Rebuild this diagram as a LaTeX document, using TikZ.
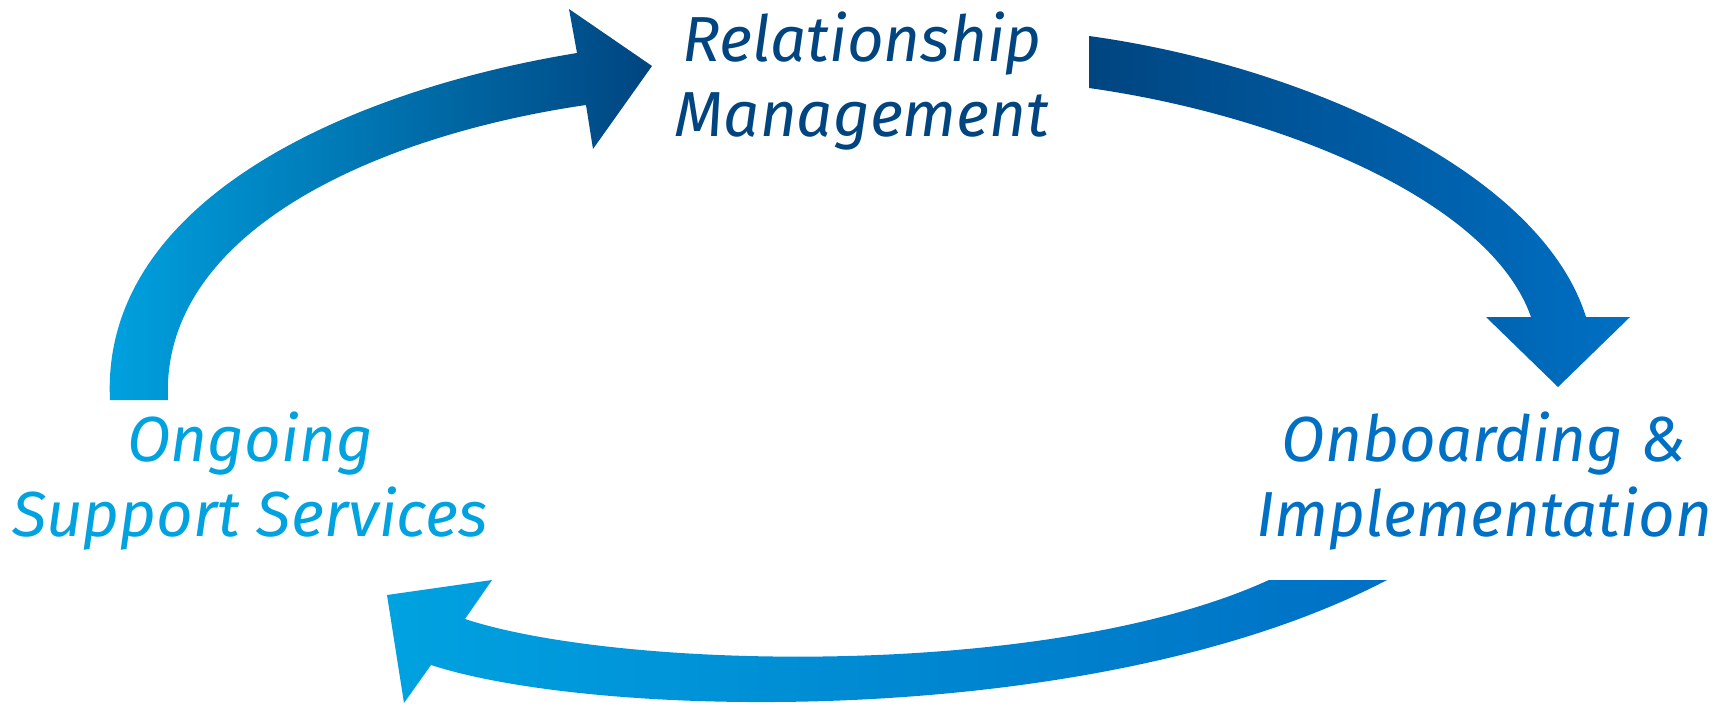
\documentclass[tikz,border=0pt]{standalone}
\usepackage{fontspec}
\setmainfont{Fira Sans}
\definecolor{navyblue}{RGB}{0,69,128}
\definecolor{midblue}{RGB}{0,112,196}
\definecolor{skyblue}{RGB}{0,162,224}
\begin{document}
\begin{tikzpicture}[x=0.01cm,y=-0.01cm]
    \useasboundingbox (0,0) rectangle (1733,706);
    \tikzset{label/.style={align=center,anchor=base,font=\itshape\fontsize{18.1}{21.3}\selectfont}}

    % arrows
    \shade[left color=skyblue, right color=navyblue]
        (110,400) .. controls (100,200) and (350,90) .. (577,53)
        -- (569,9) -- (652,66) -- (593,149) -- (586,105)
        .. controls (380,135) and (160,230) .. (168,400) -- cycle;
    \shade[left color=navyblue, right color=midblue]
        (1089,36) .. controls (1300,65) and (1540,170) .. (1586,317)
        -- (1630,317) -- (1558,387) -- (1486,317) -- (1531,317)
        .. controls (1490,200) and (1280,115) .. (1089,88) -- cycle;
    \shade[left color=skyblue, right color=midblue]
        (1387,580) .. controls (1100,730) and (600,720) .. (431,665)
        -- (404,703) -- (387,595) -- (492,580) -- (465,619)
        .. controls (620,670) and (1050,680) .. (1269,580) -- cycle;

    % labels (anchored at the baseline of the second line)
    \node[label,text=navyblue] (rel) at (862,136) {Relationship\\Management};
    \node[label,text=midblue] (onb) at (1484,536) {Onboarding \&\\Implementation};
    \node[label,text=skyblue] (ong) at (250,536) {Ongoing\\Support Services};
\end{tikzpicture}
\end{document}
